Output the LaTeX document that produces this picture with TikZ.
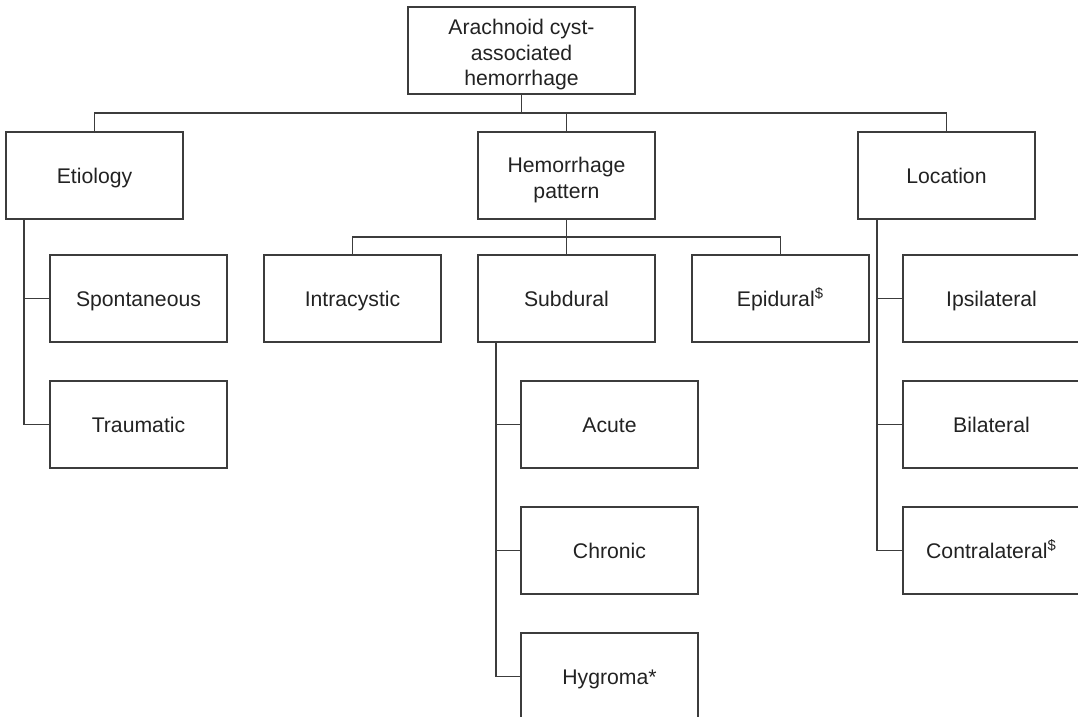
\documentclass[tikz,border=0pt]{standalone}
\usepackage{fontspec}
\setmainfont{Liberation Sans}
\definecolor{edge}{RGB}{60, 60, 60}
\definecolor{ink}{RGB}{34, 34, 34}
\usetikzlibrary{positioning, calc}
% extra room above the first line of a stacked label
\newcommand{\lift}{\rule{0pt}{12pt}}

\begin{document}
\begin{tikzpicture}[
            node distance=19.5pt,
            frame/.style={draw=edge, line width=0.7pt, align=center, text=ink, font=\fontsize{10.6}{12.8}\selectfont, minimum width=88.5pt, minimum height=43.5pt, inner sep=1.5pt, outer sep=0pt},
            stack/.style={frame},
            box/.style={frame, text height=9.4pt, text depth=1pt},
            wide/.style={stack, minimum width=113.5pt},
            link/.style={edge, line width=0.7pt}
        ]
            \useasboundingbox (-260.75pt,25.25pt) rectangle (278.25pt,-333.25pt);

            \node[wide] (root) at (0,0) {\lift Arachnoid cyst-\\associated\\hemorrhage};
            \node[stack, below=19pt of root, xshift=22.5pt] (pattern) {\lift Hemorrhage\\pattern};
            \node[box, left=147.5pt of pattern] (etio) {Etiology};
            \node[box, right=101.5pt of pattern] (loc) {Location};

            % etiology branch
            \node[box, below right=18pt and 22pt of etio.south west] (spont) {Spontaneous};
            \node[box, below=of spont] (traum) {Traumatic};

            % hemorrhage pattern branch
            \node[box, below=18pt of pattern] (sub) {Subdural};
            \node[box, left=18.5pt of sub] (intra) {Intracystic};
            \node[box, right=18.5pt of sub] (epi) {Epidural\textsuperscript{\$}};
            \node[box, below right=19.5pt and 21.5pt of sub.south west] (acute) {Acute};
            \node[box, below=of acute] (chronic) {Chronic};
            \node[box, below=of chronic] (hygroma) {Hygroma*};

            % location branch
            \node[box, below right=18pt and 22.5pt of loc.south west] (ipsi) {Ipsilateral};
            \node[box, below=of ipsi] (bilat) {Bilateral};
            \node[box, below=of bilat] (contra) {Contralateral\textsuperscript{\$}};

            \coordinate (bar) at ($(root.south)!.5!(root.south |- pattern.north)$);
            \coordinate (pbar) at ($(pattern.south)!.5!(sub.north)$);

            \draw[link] (root.south) -- (bar);
            \draw[link] (etio.north) |- (bar) -| (loc.north);
            \draw[link] (pattern.north) -- (pattern.north |- bar);

            \draw[link] (intra.north) |- (pbar) -| (epi.north);
            \draw[link] (pattern.south) -- (sub.north);

            \draw[link] ([xshift=9pt]etio.south west) |- (spont.west);
            \draw[link] ([xshift=9pt]etio.south west) |- (traum.west);

            \draw[link] ([xshift=9pt]sub.south west) |- (acute.west);
            \draw[link] ([xshift=9pt]sub.south west) |- (chronic.west);
            \draw[link] ([xshift=9pt]sub.south west) |- (hygroma.west);

            \draw[link] ([xshift=9.5pt]loc.south west) |- (ipsi.west);
            \draw[link] ([xshift=9.5pt]loc.south west) |- (bilat.west);
            \draw[link] ([xshift=9.5pt]loc.south west) |- (contra.west);
        \end{tikzpicture}
\end{document}
